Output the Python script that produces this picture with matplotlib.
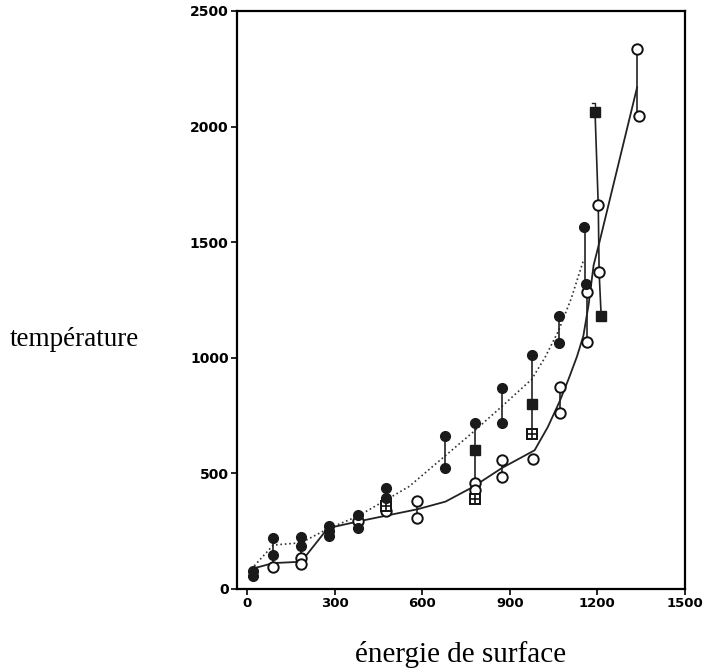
import numpy as np
import matplotlib.pyplot as plt

# filled circles
fc_x = [20, 20, 90, 90, 185, 185, 280, 280, 280, 380, 380, 476, 476, 677, 677,
        780, 874, 874, 975, 1068, 1068, 1155, 1162]
fc_y = [80, 55, 220, 148, 223, 184, 272, 252, 230, 320, 262, 435, 393, 662, 524,
        716, 871, 719, 1011, 1182, 1065, 1565, 1320]

# open circles
oc_x = [90, 185, 185, 380, 476, 582, 582, 780, 780, 874, 874, 978, 1072, 1072,
        1164, 1166, 1203, 1206, 1336, 1344]
oc_y = [97, 135, 110, 292, 337, 380, 307, 459, 427, 560, 485, 563, 875, 763,
        1283, 1070, 1659, 1369, 2336, 2044]

# filled squares
fs_x = [780, 975, 1192, 1213]
fs_y = [600, 801, 2062, 1180]

# open squares (crossed)
os_x = [476, 780, 975]
os_y = [357, 391, 671]

# vertical range bars
bar_x = [20, 90, 185, 280, 380, 476, 582, 677, 780, 874, 874, 975, 1068, 1072, 1158, 1165, 1336]
bar_lo = [55, 97, 110, 230, 262, 335, 307, 524, 391, 719, 485, 671, 1065, 763, 1320, 1070, 2044]
bar_hi = [80, 220, 223, 272, 320, 435, 380, 662, 716, 871, 560, 1011, 1182, 875, 1565, 1283, 2336]

# long bar at ~1200
long_x = [1192, 1203, 1206, 1213]
long_y = [2062, 1659, 1369, 1180]

# dotted curve (filled-circle series)
dot_x = [25, 90, 185, 280, 380, 476, 556, 677, 772, 874, 975, 1020, 1067, 1110, 1152]
dot_y = [100, 190, 200, 262, 315, 385, 444, 574, 676, 791, 907, 1000, 1117, 1255, 1420]

# solid curve (open-circle series)
sol_x = [25, 90, 186, 277, 380, 476, 584, 680, 772, 874, 985, 1030, 1072, 1101, 1130,
         1152, 1170, 1187, 1207, 1336]
sol_y = [90, 112, 118, 263, 292, 317, 345, 378, 440, 524, 600, 700, 815, 907, 1005,
         1095, 1230, 1400, 1500, 2170]

xticks = [0, 300, 600, 900, 1200, 1500]
yticks = [0, 500, 1000, 1500, 2000, 2500]

fig = plt.figure(figsize=(7.03, 6.69), dpi=100)
ax = fig.add_axes([237 / 703, 1 - 589 / 669, (685 - 237) / 703, (589 - 11) / 669])

ax.plot(dot_x, dot_y, ls=':', color='#333333', lw=1.2, zorder=1)
ax.plot(sol_x, sol_y, ls='-', color='#222222', lw=1.3, zorder=1)

ax.vlines(bar_x, bar_lo, bar_hi, color='#222222', lw=1.2, zorder=2)
ax.plot(long_x, long_y, color='#222222', lw=1.2, zorder=2)
# small cap above the top square
ax.plot([1180, 1192, 1192], [2100, 2100, 2062], color='#222222', lw=1.0, zorder=2)

ax.plot(oc_x, oc_y, 'o', ms=7.5, mfc='white', mec='#111111', mew=1.4, ls='none', zorder=3)
ax.plot(os_x, os_y, 's', ms=7, mfc='white', mec='#111111', mew=1.4, ls='none', zorder=3)
ax.plot(os_x, os_y, '+', ms=6, mec='#111111', mew=1.2, ls='none', zorder=4)
ax.plot(fc_x, fc_y, 'o', ms=7, mfc='#1a1a1a', mec='#1a1a1a', ls='none', zorder=4)
ax.plot(fs_x, fs_y, 's', ms=7, mfc='#1a1a1a', mec='#1a1a1a', ls='none', zorder=4)

ax.set_xlim(-34, 1500)
ax.set_ylim(0, 2500)
ax.set_xticks(xticks)
ax.set_yticks(yticks)
ax.tick_params(direction='out', length=4, width=1.2, pad=2)
ax.tick_params(axis='x', labelsize=9.5)
ax.tick_params(axis='y', labelsize=10)
for lab in ax.get_xticklabels() + ax.get_yticklabels():
    lab.set_fontweight('bold')
for s in ax.spines.values():
    s.set_linewidth(1.6)

fig.text(74 / 703, 1 - 340 / 669, 'température', family='Liberation Serif',
         fontsize=19.5, ha='center', va='center')
fig.text(461 / 703, 1 - 655 / 669, 'énergie de surface', family='Liberation Serif',
         fontsize=21, ha='center', va='center')

fig.savefig('out.png', dpi=100)
